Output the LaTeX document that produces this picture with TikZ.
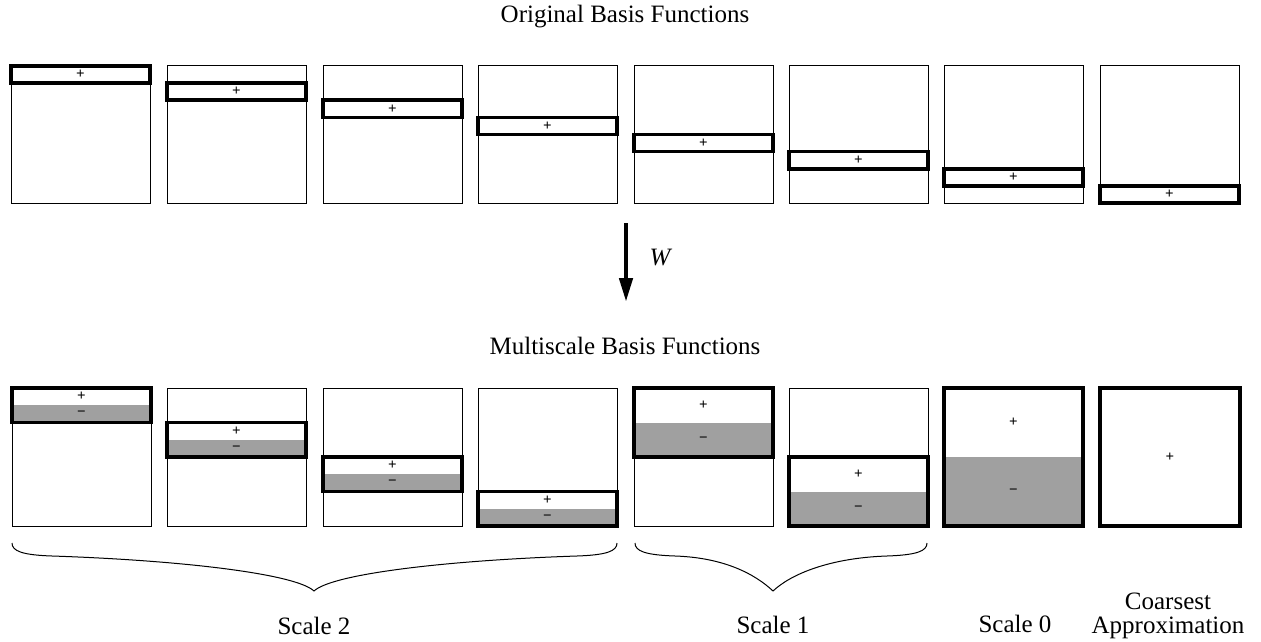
\documentclass[tikz,border=0pt]{standalone}
\usepackage{fontspec}
\setmainfont{Liberation Serif}
\usetikzlibrary{arrows.meta}
\definecolor{stipple}{RGB}{160,160,160}
\tikzset{
  frame/.style={draw=black, line width=1pt},
  band/.style={draw=black, line width=3.6pt},
  shade/.style={fill=stipple},
  sign/.style={font=\fontsize{15}{15}\selectfont\bfseries, inner sep=0pt},
  label/.style={font=\fontsize{25}{25}\selectfont, inner sep=0pt, anchor=base},
  brace/.style={draw=black, line width=1pt},
}
% horizontal curly brace: #1 left end, #2 cusp, #3 right end
\newcommand\curlybrace[3]{%
  \pgfmathsetmacro\dl{#2-#1-40}%
  \pgfmathsetmacro\dr{#3-40-#2}%
  \draw[brace] (#1,543) .. controls (#1,551) and (#1+10,555) .. (#1+40,556)
    .. controls ({#1+40+0.5*\dl},{556+0.5*\dl/30}) and (#2-18,574) .. (#2,591)
    .. controls (#2+18,574) and ({#3-40-0.5*\dr},{556+0.5*\dr/30}) .. (#3-40,556)
    .. controls (#3-10,555) and (#3,551) .. (#3,543);
}
\begin{document}
\begin{tikzpicture}[x=1pt,y=-1pt]
\useasboundingbox (0,0) rectangle (1261,642);

% titles
\node[label] (origtitle) at (625,23) {Original Basis Functions};
\node[label] (multititle) at (625,354) {Multiscale Basis Functions};

% original basis: one band per box, stepping down by 1/8
\foreach \i/\x in {0/11,1/167,2/323,3/478,4/634,5/789,6/944,7/1100} {
  \pgfmathsetmacro\t{66+\i*137/8}
  \pgfmathsetmacro\b{66+(\i+1)*137/8}
  \draw[frame] (\x,66) rectangle (\x+139,203);
  \draw[band] (\x,\t) rectangle (\x+139,\b);
  \node[sign] (orig\i) at (\x+69.5,{(\t+\b)/2}) {+};
}

% transform arrow
\coordinate (wtop) at (626,223);
\coordinate (wbot) at (626,302);
\draw[line width=4.5pt, -{Triangle[length=24pt,width=13pt]}] (wtop) -- (wbot);
\node[label, font=\fontsize{25}{25}\selectfont\itshape] (wlab) at (660,265) {W};

% multiscale basis: scale 2 (bands of 2/8)
\foreach \i/\x in {0/12,1/167,2/323,3/478} {
  \pgfmathsetmacro\t{388+\i*2*138/8}
  \pgfmathsetmacro\m{\t+138/8}
  \pgfmathsetmacro\b{\t+2*138/8}
  \draw[frame] (\x,388) rectangle (\x+139,526);
  \fill[shade] (\x,\m) rectangle (\x+139,\b);
  \draw[band] (\x,\t) rectangle (\x+139,\b);
  \node[sign] (sctwop\i) at (\x+69.5,{(\t+\m)/2}) {+};
  \node[sign] (sctwom\i) at (\x+69.5,{(\m+\b)/2}) {−};
}
% scale 1 (bands of 4/8)
\foreach \i/\x in {0/634,1/789} {
  \pgfmathsetmacro\t{388+\i*138/2}
  \pgfmathsetmacro\m{\t+138/4}
  \pgfmathsetmacro\b{\t+138/2}
  \draw[frame] (\x,388) rectangle (\x+139,526);
  \fill[shade] (\x,\m) rectangle (\x+139,\b);
  \draw[band] (\x,\t) rectangle (\x+139,\b);
  \node[sign] (sconep\i) at (\x+69.5,{(\t+\m)/2}) {+};
  \node[sign] (sconem\i) at (\x+69.5,{(\m+\b)/2}) {−};
}
% scale 0
\fill[shade] (944,457) rectangle (1083,526);
\draw[band] (944,388) rectangle (1083,526);
\node[sign] (szerop) at (1013.5,422.5) {+};
\node[sign] (szerom) at (1013.5,491.5) {−};
% coarsest approximation
\draw[band] (1100,388) rectangle (1240,526);
\node[sign] (coarsep) at (1170,457) {+};

% braces and group labels
\curlybrace{12}{314}{617}
\curlybrace{635}{773}{927}
\node[label] (sctwo) at (314,634) {Scale 2};
\node[label] (scone) at (773,633) {Scale 1};
\node[label] (sczero) at (1015,632) {Scale 0};
\node[label, font=\fontsize{25}{24}\selectfont, align=center] (coarse) at (1168,633) {Coarsest\\Approximation};
\end{tikzpicture}
\end{document}
